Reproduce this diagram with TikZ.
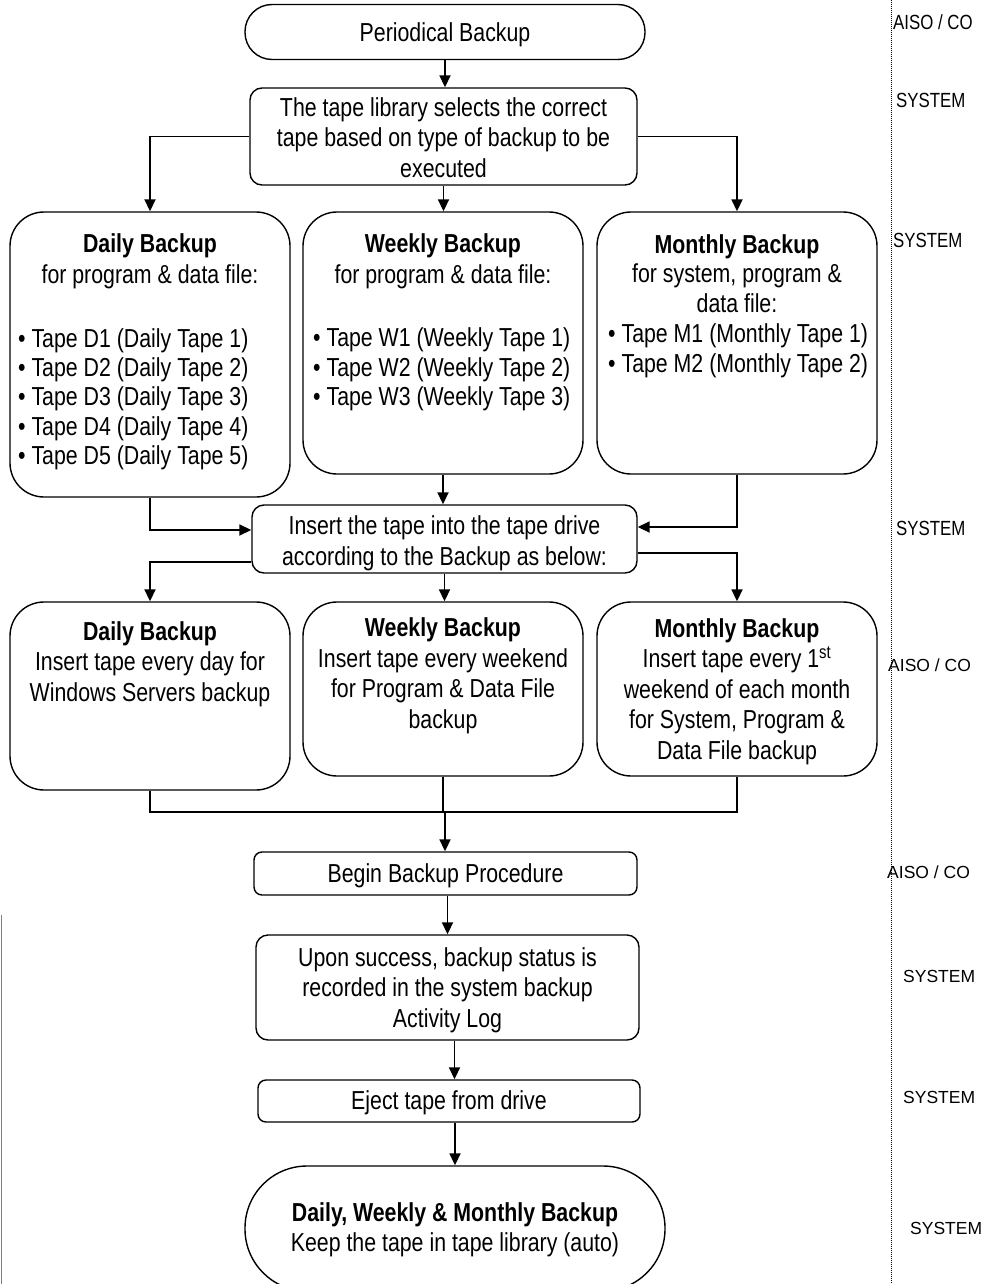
\documentclass[tikz,border=0pt]{standalone}
\usepackage{fontspec}
\setmainfont{Liberation Sans}[FakeStretch=0.82]
\newfontfamily\widefont{Liberation Sans}
\usetikzlibrary{arrows.meta}
\begin{document}
\begin{tikzpicture}[x=1pt,y=-1pt,
  smallbox/.style={draw, line width=1.4pt, rounded corners=12pt, inner sep=0pt},
  bigbox/.style={draw, line width=1.4pt, rounded corners=34pt, inner sep=0pt},
  arr/.style={-{Triangle[length=12pt,width=11pt]}, line width=1.8pt},
  conn/.style={line width=1.8pt},
  txt/.style={font=\fontsize{26}{30.5}\selectfont, align=center, inner sep=0pt, yshift=-2.5pt},
  bul/.style={font=\fontsize{26}{29.3}\selectfont, align=left, inner sep=0pt, anchor=west, yshift=-2.5pt},
  lblA/.style={font=\fontsize{20.5}{24}\selectfont, anchor=west, inner sep=0pt},
  lblB/.style={font=\widefont\fontsize{17.5}{21}\selectfont, anchor=west, inner sep=0pt}
]
\useasboundingbox (0,0) rectangle (982,1284);

% boxes
\node[draw, line width=1.4pt, rounded corners=27pt, minimum width=400pt, minimum height=55pt] (start) at (445,32) {};
\node[smallbox, minimum width=387pt, minimum height=97pt] (sel) at (443.5,136.5) {};
\node[bigbox, minimum width=280pt, minimum height=285pt] (d1) at (150,354.5) {};
\node[bigbox, minimum width=280pt, minimum height=262pt] (w1) at (443,343) {};
\node[bigbox, minimum width=280pt, minimum height=262pt] (m1) at (737,343) {};
\node[smallbox, minimum width=385pt, minimum height=68pt] (ins) at (444.5,539) {};
\node[bigbox, minimum width=280pt, minimum height=188pt] (d2) at (150,696) {};
\node[bigbox, minimum width=280pt, minimum height=174pt] (w2) at (443,689) {};
\node[bigbox, minimum width=280pt, minimum height=174pt] (m2) at (737,689) {};
\node[smallbox, rounded corners=8pt, minimum width=383pt, minimum height=43pt] (beg) at (445.5,873.5) {};
\node[smallbox, minimum width=383pt, minimum height=105pt] (succ) at (447.5,987.5) {};
\node[smallbox, rounded corners=8pt, minimum width=382pt, minimum height=42pt] (ej) at (449,1101) {};
\node[draw, line width=1.4pt, rounded corners=62pt, minimum width=420pt, minimum height=125pt] (fin) at (455,1228.5) {};

% texts
\node[txt] (tstart) at (445,32) {Periodical Backup};
\node[txt, yshift=1.5pt] (tsel) at (443.5,136.5) {The tape library selects the correct\\tape based on type of backup to be\\executed};
\node[txt] (td1) at (150,259) {\textbf{Daily Backup}\\for program \& data file:};
\node[bul] (bd1) at (18,396.5) {\textbullet{} Tape D1 (Daily Tape 1)\\\textbullet{} Tape D2 (Daily Tape 2)\\\textbullet{} Tape D3 (Daily Tape 3)\\\textbullet{} Tape D4 (Daily Tape 4)\\\textbullet{} Tape D5 (Daily Tape 5)};
\node[txt] (tw1) at (443,259) {\textbf{Weekly Backup}\\for program \& data file:};
\node[bul] (bw1) at (313,367) {\textbullet{} Tape W1 (Weekly Tape 1)\\\textbullet{} Tape W2 (Weekly Tape 2)\\\textbullet{} Tape W3 (Weekly Tape 3)};
\node[txt, font=\fontsize{26}{29.5}\selectfont, yshift=1.5pt] (tm1) at (737,272.5) {\textbf{Monthly Backup}\\for system, program \&\\data file:};
\node[bul, font=\fontsize{26}{30}\selectfont] (bm1) at (608,348) {\textbullet{} Tape M1 (Monthly Tape 1)\\\textbullet{} Tape M2 (Monthly Tape 2)};
\node[txt, font=\fontsize{26}{31}\selectfont] (tins) at (444.5,540.5) {Insert the tape into the tape drive\\according to the Backup as below:};
\node[txt] (td2) at (150,661.5) {\textbf{Daily Backup}\\Insert tape every day for\\Windows Servers backup};
\node[txt] (tw2) at (443,673.5) {\textbf{Weekly Backup}\\Insert tape every weekend\\for Program \& Data File\\backup};
\node[txt] (tm2) at (737,689) {\textbf{Monthly Backup}\\Insert tape every 1\textsuperscript{st}\\weekend of each month\\for System, Program \&\\Data File backup};
\node[txt] (tbeg) at (445.5,873.5) {Begin Backup Procedure};
\node[txt] (tsucc) at (447.5,987.5) {Upon success, backup status is\\recorded in the system backup\\Activity Log};
\node[txt] (tej) at (449,1100.5) {Eject tape from drive};
\node[txt, font=\fontsize{26}{30}\selectfont] (tfin) at (455,1227) {\textbf{Daily, Weekly \& Monthly Backup}\\Keep the tape in tape library (auto)};

% connectors
\draw[arr] (start.south) -- (start.south |- sel.north);
\draw[arr] (sel.west) -| (d1.north);
\draw[arr] (sel.south) -- (sel.south |- w1.north);
\draw[arr] (sel.east) -| (m1.north);
\draw[arr] (d1.south) |- ([yshift=9pt]ins.west);
\draw[arr] (w1.south) -- (w1.south |- ins.north);
\draw[arr] (m1.south) |- ([yshift=12pt]ins.east);
\draw[arr] ([yshift=-23pt]ins.west) -| (d2.north);
\draw[arr] (ins.south) -- (ins.south |- w2.north);
\draw[arr] ([yshift=-14pt]ins.east) -| (m2.north);
\coordinate (mg) at (445,812);
\draw[conn] (d2.south) |- (mg) -| (m2.south);
\draw[conn] (w2.south) -- (w2.south |- mg);
\draw[arr] (mg) -- (mg |- beg.north);
\draw[arr] (beg.south -| succ.north) -- (succ.north);
\draw[arr] ([xshift=7pt]succ.south) -- ([xshift=7pt]succ.south |- ej.north);
\draw[arr] (fin.north |- ej.south) -- (fin.north);

% right-hand lane labels
\draw[line width=1pt, dash pattern=on 1pt off 1pt] (891,0) -- (891,1284);
\draw[line width=0.8pt, gray] (1,915) -- (1,1284);
\node[lblA] (l1) at (893,22) {AISO / CO};
\node[lblA] (l2) at (896,100) {SYSTEM};
\node[lblA] (l3) at (893,240) {SYSTEM};
\node[lblA] (l4) at (896,528) {SYSTEM};
\node[lblB] (l5) at (888,665) {AISO / CO};
\node[lblB] (l6) at (887,872) {AISO / CO};
\node[lblB] (l7) at (903,976) {SYSTEM};
\node[lblB] (l8) at (903,1097) {SYSTEM};
\node[lblB] (l9) at (910,1228) {SYSTEM};
\end{tikzpicture}
\end{document}
